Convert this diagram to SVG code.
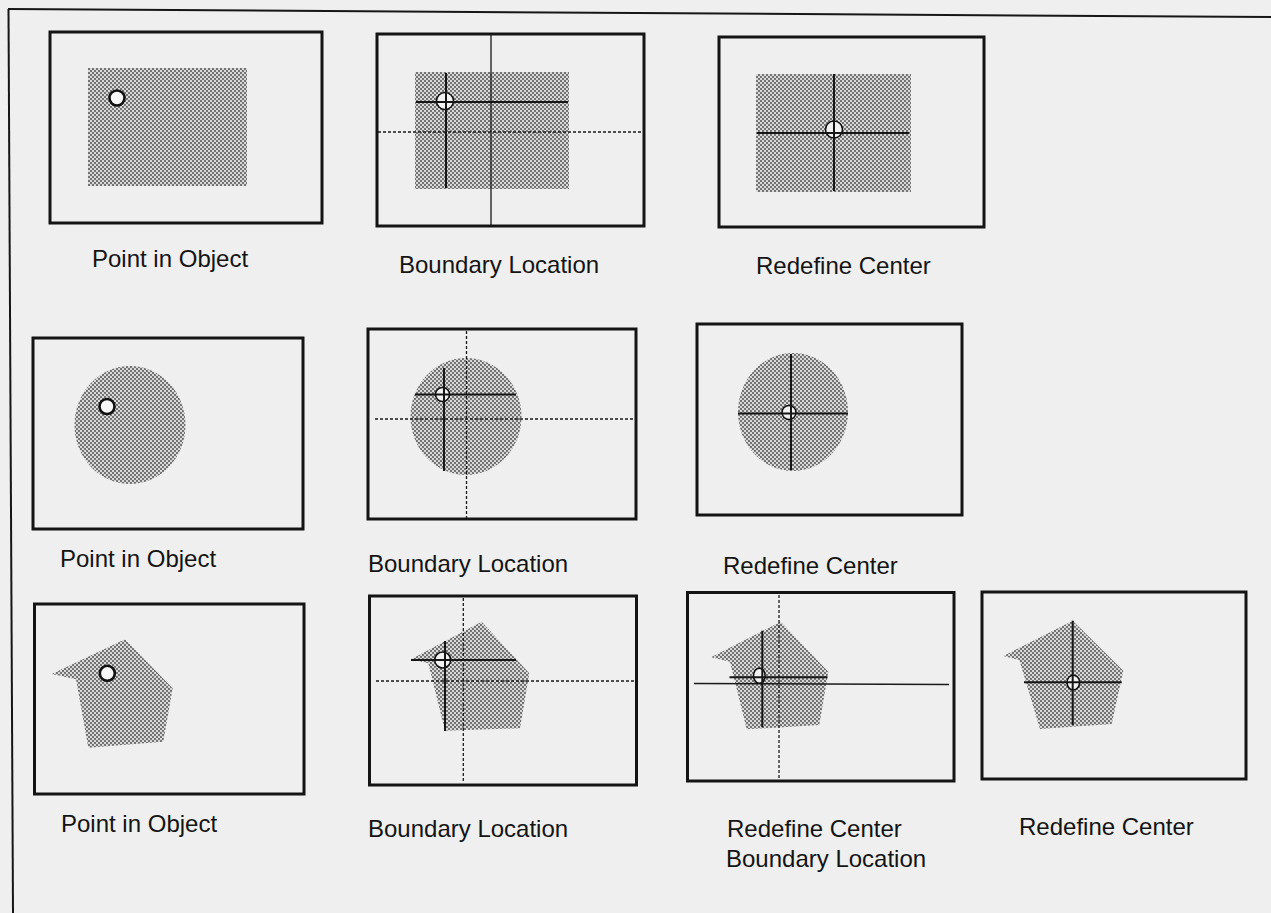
<svg xmlns="http://www.w3.org/2000/svg" width="1271" height="913" viewBox="0 0 1271 913">
<defs>
<pattern id="dots" patternUnits="userSpaceOnUse" width="4" height="4">
<rect width="4" height="4" fill="#d8d8d8"/>
<circle cx="1" cy="1" r="0.9" fill="#444"/>
<circle cx="3" cy="3" r="0.9" fill="#444"/>
</pattern>
<style>
.box{fill:none;stroke:#141414;stroke-width:3}
.shade{fill:url(#dots)}
.cross{stroke:#161616;stroke-width:2;fill:none}
.thin{stroke:#1a1a1a;stroke-width:1.3;fill:none}
.dash{stroke:#1a1a1a;stroke-width:1.3;stroke-dasharray:3 2;fill:none}
.pt{fill:#f8f8f8;stroke:#111;stroke-width:2.6}
.ptc{fill:#f2f2f2;stroke:#111;stroke-width:1.6}
.lbl{font-family:"Liberation Sans",Arial,Helvetica,sans-serif;font-size:24px;fill:#141414}
</style>
</defs>
<rect width="1271" height="913" fill="#efefef"/>
<g id="frame">
<line x1="8" y1="9" x2="1271" y2="17" stroke="#161616" stroke-width="2"/>
<line x1="8.5" y1="9" x2="13" y2="913" stroke="#161616" stroke-width="2"/>
</g>
<g id="connectors"></g>

<!-- Row 1 -->
<g id="r1-point-in-object">
<rect class="shade" x="88" y="68" width="159" height="118"/>
<rect class="box" x="50" y="32" width="272" height="191"/>
<circle class="pt" cx="117" cy="98" r="7.5"/>
<text class="lbl" x="92" y="267">Point in Object</text>
</g>
<g id="r1-boundary-location">
<rect class="shade" x="415" y="72" width="154" height="117"/>
<line class="thin" x1="491" y1="35" x2="491" y2="225"/>
<line class="dash" x1="378" y1="132" x2="643" y2="132"/>
<circle class="ptc" cx="445" cy="101" r="8.5"/>
<line class="cross" x1="416" y1="102" x2="568" y2="102"/>
<line class="cross" x1="446" y1="73" x2="446" y2="188"/>
<rect class="box" x="377" y="34" width="267" height="192"/>
<text class="lbl" x="399" y="273">Boundary Location</text>
</g>
<g id="r1-redefine-center">
<rect class="shade" x="756" y="74" width="155" height="118"/>
<circle class="ptc" cx="834" cy="129.5" r="8.5"/>
<line class="cross" x1="757" y1="133" x2="909" y2="133"/>
<line class="cross" x1="834" y1="74" x2="834" y2="191"/>
<rect class="box" x="719" y="37" width="265" height="190"/>
<text class="lbl" x="756" y="274">Redefine Center</text>
</g>

<!-- Row 2 -->
<g id="r2-point-in-object">
<ellipse class="shade" cx="130" cy="425" rx="55.5" ry="59"/>
<rect class="box" x="33" y="338" width="270" height="191"/>
<circle class="pt" cx="107" cy="406.5" r="7.5" stroke-width="3.2"/>
<text class="lbl" x="60" y="567">Point in Object</text>
</g>
<g id="r2-boundary-location">
<ellipse class="shade" cx="466" cy="416.5" rx="55.5" ry="58.5"/>
<line class="dash" x1="466.5" y1="331" x2="466.5" y2="518"/>
<line class="dash" x1="375" y1="419" x2="636" y2="419"/>
<circle class="ptc" cx="442.5" cy="394.5" r="7"/>
<line class="cross" x1="415" y1="394.5" x2="516" y2="394.5"/>
<line class="cross" x1="444" y1="368" x2="444" y2="471"/>
<rect class="box" x="368" y="329" width="268" height="190"/>
<text class="lbl" x="368" y="572">Boundary Location</text>
</g>
<g id="r2-redefine-center">
<ellipse class="shade" cx="793" cy="412" rx="55" ry="59"/>
<circle class="ptc" cx="789" cy="412.5" r="7"/>
<line class="cross" x1="738" y1="413.5" x2="848" y2="413.5"/>
<line class="cross" x1="791" y1="354" x2="791" y2="470"/>
<rect class="box" x="697" y="324" width="265" height="191"/>
<text class="lbl" x="723" y="574">Redefine Center</text>
</g>

<!-- Row 3 -->
<g id="r3-point-in-object">
<polygon class="shade" points="51.7,674 125,639.3 172.7,688.3 163.3,741.7 88.3,747.7 76,679.3"/>
<rect class="box" x="34.5" y="604" width="269.5" height="190"/>
<circle class="pt" cx="107.3" cy="673.3" r="7.5"/>
<text class="lbl" x="61" y="832">Point in Object</text>
</g>
<g id="r3-boundary-location">
<polygon class="shade" points="411,659.3 481.7,621.7 529.3,673.3 520,728.3 445,730.7 428.3,663.3"/>
<line class="dash" x1="463.3" y1="598" x2="463.3" y2="782"/>
<line class="dash" x1="376" y1="681" x2="637" y2="681"/>
<circle class="ptc" cx="442.7" cy="660" r="8"/>
<line class="cross" x1="411" y1="660" x2="516" y2="660"/>
<line class="cross" x1="445" y1="641" x2="445" y2="731"/>
<rect class="box" x="369.5" y="596" width="267" height="189"/>
<text class="lbl" x="368" y="837">Boundary Location</text>
</g>
<g id="r3-redefine-center-boundary-location">
<polygon class="shade" points="711,657.3 780.7,621.7 828.3,671.7 819.3,725 746.7,729.3 730,661.7"/>
<line class="dash" x1="779" y1="595" x2="779" y2="778"/>
<line class="thin" x1="694" y1="683.5" x2="949" y2="684.5"/>
<ellipse class="ptc" cx="759.3" cy="675.7" rx="5.8" ry="7.6"/>
<line class="cross" x1="729.5" y1="677.3" x2="827.5" y2="677.3"/>
<line class="cross" x1="762.3" y1="630.7" x2="762.3" y2="727.3"/>
<rect class="box" x="687.5" y="592.5" width="266.5" height="188.5"/>
<text class="lbl" x="727" y="837">Redefine Center</text>
<text class="lbl" x="726" y="867">Boundary Location</text>
</g>
<g id="r3-redefine-center">
<polygon class="shade" points="1003.3,656 1072.7,620.7 1123.3,670.7 1111.7,724 1040,729 1019.3,660"/>
<ellipse class="ptc" cx="1073.3" cy="682.5" rx="6.3" ry="7.3"/>
<line class="cross" x1="1024" y1="682.3" x2="1121.7" y2="682.3"/>
<line class="cross" x1="1072.7" y1="620.7" x2="1072.7" y2="725"/>
<rect class="box" x="982" y="592" width="264" height="187"/>
<text class="lbl" x="1019" y="835">Redefine Center</text>
</g>
</svg>
